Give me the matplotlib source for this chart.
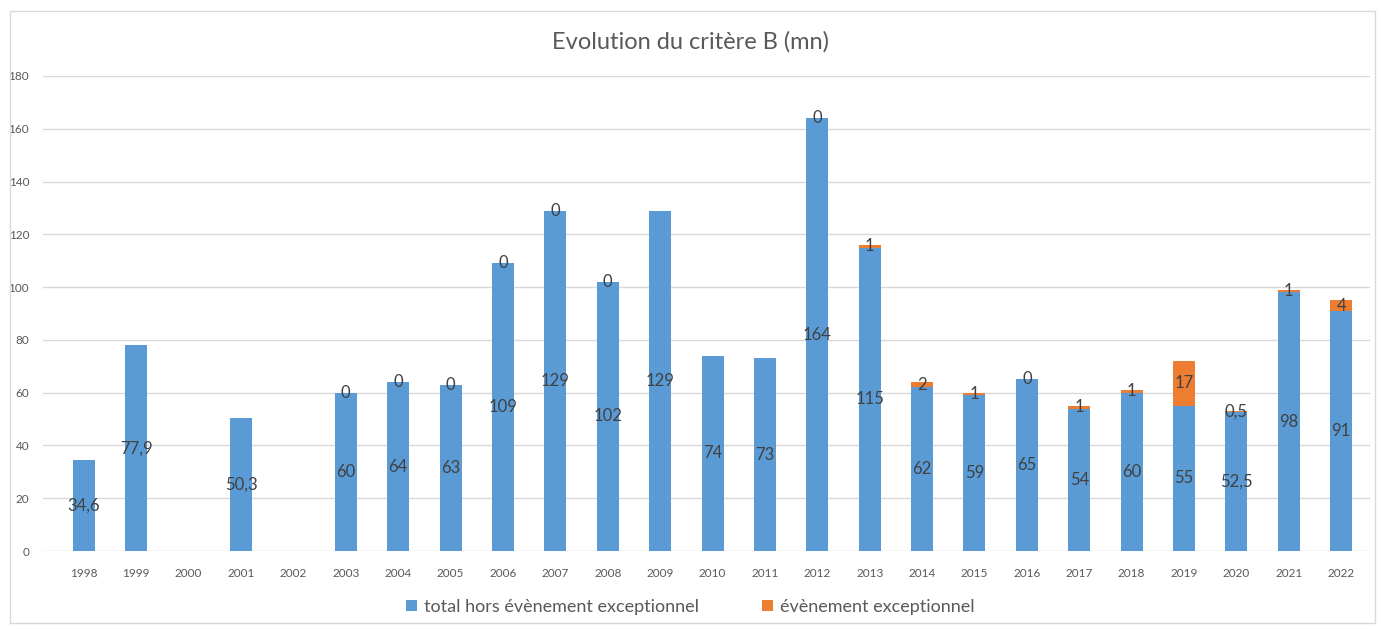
import numpy as np
import matplotlib
matplotlib.use('Agg')
from matplotlib import pyplot as plt
from matplotlib.patches import Rectangle

plt.rcParams['font.family'] = ['Lato', 'DejaVu Sans']

# data
years = [str(y) for y in range(1998, 2023)]
hors_exc = [34.6, 77.9, np.nan, 50.3, np.nan, 60, 64, 63, 109, 129, 102, 129, 74, 73,
            164, 115, 62, 59, 65, 54, 60, 55, 52.5, 98, 91]
exc = [np.nan, np.nan, np.nan, np.nan, np.nan, 0, 0, 0, 0, 0, 0, np.nan, np.nan, np.nan,
       0, 1, 2, 1, 0, 1, 1, 17, 0.5, 1, 4]


def fmt(v):
    if np.isnan(v):
        return ''
    s = f"{v:g}"
    return s.replace('.', ',')


blue = '#5B9BD5'
orange = '#ED7D31'
label_col = '#404040'
tick_col = '#595959'

fig = plt.figure(figsize=(13.81, 6.29), dpi=100)
ax = fig.add_axes([43 / 1381, 1 - 551 / 629, (1370 - 43) / 1381, (551 - 76) / 629])

x = np.arange(len(years))
h = np.nan_to_num(np.array(hors_exc, dtype=float))
e = np.nan_to_num(np.array(exc, dtype=float))

b1 = ax.bar(x, h, width=0.42, color=blue, label='total hors évènement exceptionnel', zorder=2)
b2 = ax.bar(x, e, width=0.42, bottom=h, color=orange, label='évènement exceptionnel', zorder=2)

ax.bar_label(b1, labels=[fmt(v) for v in hors_exc], label_type='center',
             fontsize=12, color=label_col)
ax.bar_label(b2, labels=[fmt(v) for v in exc], label_type='center',
             fontsize=12, color=label_col)

ax.set_ylim(0, 180)
ax.set_yticks(range(0, 181, 20))
ax.set_xlim(-0.78, 24.55)
ax.set_xticks(x)
ax.set_xticklabels(years)
ax.tick_params(axis='both', length=0, labelsize=8.5, colors=tick_col)
ax.tick_params(axis='x', pad=12)
ax.tick_params(axis='y', pad=10)
ax.grid(axis='y', color='#D9D9D9', linewidth=1, zorder=0)
for s in ax.spines.values():
    s.set_visible(False)

fig.text(0.5, 1 - 42 / 629, 'Evolution du critère B (mn)', ha='center', va='center',
         fontsize=17, color=tick_col)

fig.legend(handles=[b1, b2], loc='center', bbox_to_anchor=(0.5, 1 - 607 / 629),
           ncol=2, frameon=False, fontsize=13, handlelength=0.6, handleheight=0.6,
           columnspacing=3.5, handletextpad=0.4, labelcolor=tick_col)

fig.patches.append(Rectangle((10 / 1381, 6 / 629), 1365 / 1381, 612 / 629,
                             transform=fig.transFigure, fill=False,
                             edgecolor='#D9D9D9', linewidth=1))

fig.savefig('out.png', dpi=100)
